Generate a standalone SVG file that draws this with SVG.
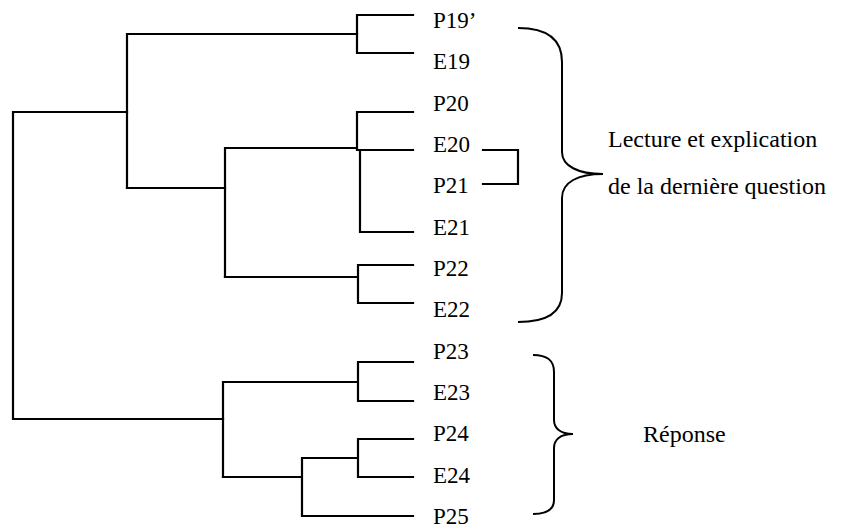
<svg xmlns="http://www.w3.org/2000/svg" width="853" height="528" viewBox="0 0 853 528">
<style>
.ln{fill:none;stroke:#000;stroke-width:2.2;stroke-linecap:square;stroke-linejoin:miter}
.br{fill:none;stroke:#000;stroke-width:2}
.lb{font-family:"Liberation Serif","Times New Roman",serif;font-size:23px;fill:#000}
.gl{font-family:"Liberation Serif","Times New Roman",serif;font-size:24px;fill:#000}
</style>
<rect width="853" height="528" fill="#fff"/>
<g id="connectors">
<path class="ln" d="M357,15 H413 M357,53 H413 M357,15 V53"/>
<path class="ln" d="M127,34 H357 M127,34 V188"/>
<path class="ln" d="M357,112 H413 M357,150 H413 M357,112 V150"/>
<path class="ln" d="M360,150 V232 H413"/>
<path class="ln" d="M225,148 H355 M225,148 V277"/>
<path class="ln" d="M127,188 H225"/>
<path class="ln" d="M225,277 H358 M358,265 V303 M358,265 H413 M358,303 H413"/>
<path class="ln" d="M13,112 H127 M13,112 V419 H223"/>
<path class="ln" d="M223,382 V477 M223,382 H358 M358,362 V401 M358,362 H413 M358,401 H413"/>
<path class="ln" d="M223,477 H302 M302,458 V516 H413 M302,458 H358 M358,439 V477 M358,439 H413 M358,477 H413"/>
<path class="ln" d="M483,150 H518 V184 H483"/>
</g>
<g id="leaves">
<text class="lb" x="433" y="28">P19’</text>
<text class="lb" x="433" y="69">E19</text>
<text class="lb" x="433" y="111">P20</text>
<text class="lb" x="433" y="152">E20</text>
<text class="lb" x="433" y="193">P21</text>
<text class="lb" x="433" y="235">E21</text>
<text class="lb" x="433" y="276">P22</text>
<text class="lb" x="433" y="317">E22</text>
<text class="lb" x="433" y="359">P23</text>
<text class="lb" x="433" y="400">E23</text>
<text class="lb" x="433" y="441">P24</text>
<text class="lb" x="433" y="483">E24</text>
<text class="lb" x="433" y="524">P25</text>
</g>
<g id="brace-lecture">
<path class="br" d="M518,28 C548,28 562,40 562,62 L562,152 C562,166 578,174 603,174 C578,174 562,182 562,198 L562,293 C562,312 548,322 518,322"/>
<text class="gl" x="608" y="147">Lecture et explication</text>
<text class="gl" x="608" y="194">de la dernière question</text>
</g>
<g id="brace-reponse">
<path class="br" d="M533,355 C547,355 554,360 554,372 L554,420 C554,428 560,434 573,434 C560,434 554,440 554,448 L554,500 C554,510 547,514 533,514"/>
<text class="gl" x="643" y="442">Réponse</text>
</g>
</svg>
